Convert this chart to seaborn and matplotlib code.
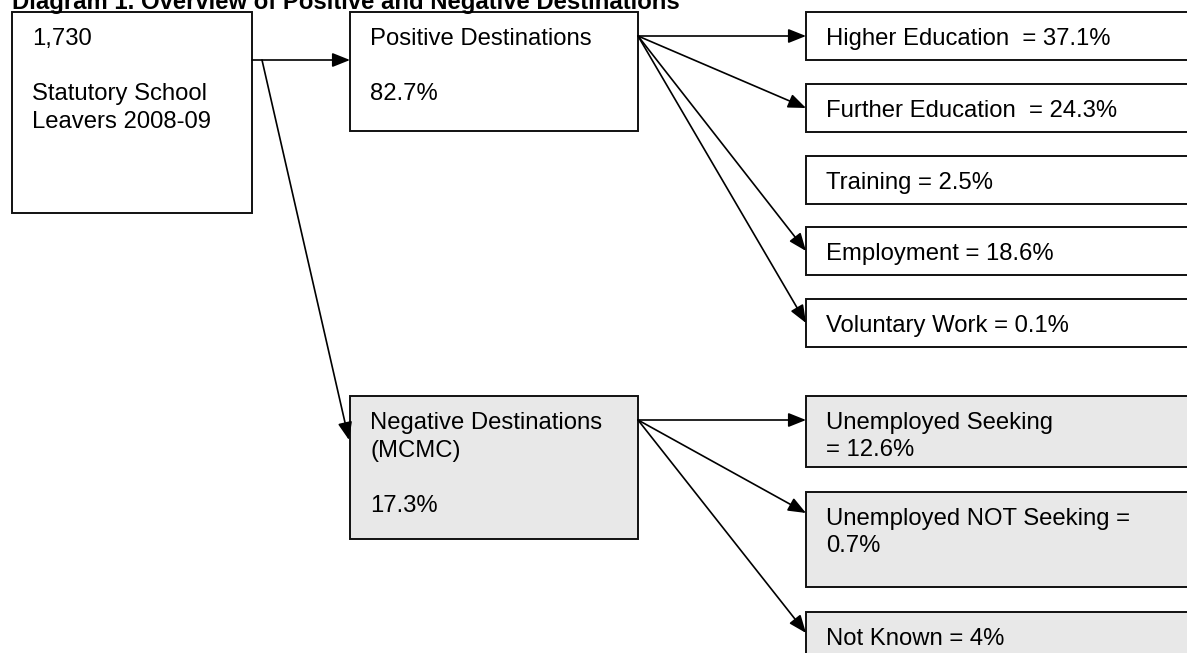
import seaborn as sns
import matplotlib.pyplot as plt
from matplotlib.patches import Rectangle

# data
title = "Diagram 1. Overview of Positive and Negative Destinations"
leavers_total = "1,730"
leavers_label = ["Statutory School", "Leavers 2008-09"]
branch_names = [["Positive Destinations"], ["Negative Destinations", "(MCMC)"]]
branch_pct = [82.7, 17.3]
positive_labels = ["Higher Education  = {}%", "Further Education  = {}%", "Training = {}%",
                   "Employment = {}%", "Voluntary Work = {}%"]
positive_pct = [37.1, 24.3, 2.5, 18.6, 0.1]
positive_linked = [True, True, False, True, True]
negative_labels = ["Unemployed Seeking\n= {}%", "Unemployed NOT Seeking =\n{}%", "Not Known = {}%"]
negative_pct = [12.6, 0.7, 4]

# layout (pixels, y down)
W, H = 1187, 653
LINE = 27.5
PAD_X, PAD_Y = 20, 33
src_box = (12, 12, 240, 201)
pos_box = (350, 12, 288, 119)
neg_box = (350, 396, 288, 143)
right_x, right_w = 806, 420
pos_tops = [12, 84, 156, 227, 299]
pos_h = 48
neg_tops = [396, 492, 612]
neg_h = [71, 95, 60]
neg_tip = [24, 21, 21]
GREY = "#e8e8e8"
FS = 17.2

sns.set_theme(style="white")
plt.rcParams['font.family'] = ['Liberation Sans', 'DejaVu Sans']

fig = plt.figure(figsize=(W / 100, H / 100), dpi=100)
ax = fig.add_axes([0, 0, 1, 1])
ax.set_xlim(0, W)
ax.set_ylim(H, 0)
ax.axis('off')


def box(x, y, w, h, lines, fill="white"):
    ax.add_patch(Rectangle((x, y), w, h, facecolor=fill, edgecolor="#111111", lw=1.4, zorder=2))
    for i, t in enumerate(lines):
        if t:
            ax.text(x + PAD_X, y + PAD_Y + i * LINE, t, fontsize=FS, va='baseline', ha='left',
                    color="black", zorder=3)


def arrow(x0, y0, x1, y1):
    ax.annotate("", xy=(x1, y1), xytext=(x0, y0),
                arrowprops=dict(arrowstyle="-|>,head_length=0.6,head_width=0.24", mutation_scale=18,
                                color="black", lw=1.2, shrinkA=0, shrinkB=0), zorder=4)


ax.text(12, 9, title, fontsize=FS, fontweight='bold', va='baseline', ha='left', color="black")

box(*src_box, [leavers_total, ""] + leavers_label)
box(*pos_box, branch_names[0] + ["", f"{branch_pct[0]:g}%"])
box(*neg_box, branch_names[1] + ["", f"{branch_pct[1]:g}%"], fill=GREY)

# source arrows
arrow(252, 60, 350, 60)
arrow(262, 60, 349, 440)

# positive destinations
px, py = pos_box[0] + pos_box[2], 36
for lab, v, top, linked in zip(positive_labels, positive_pct, pos_tops, positive_linked):
    box(right_x, top, right_w, pos_h, [lab.format(f"{v:g}")])
    if linked:
        tip = py if top == pos_tops[0] else top + pos_h / 2
        arrow(px, py, right_x, tip)

# negative destinations
nx, ny = neg_box[0] + neg_box[2], 420
for lab, v, top, h, t in zip(negative_labels, negative_pct, neg_tops, neg_h, neg_tip):
    box(right_x, top, right_w, h, lab.format(f"{v:g}").split("\n"), fill=GREY)
    arrow(nx, ny, right_x, top + t)

fig.savefig("out.png", dpi=100)
